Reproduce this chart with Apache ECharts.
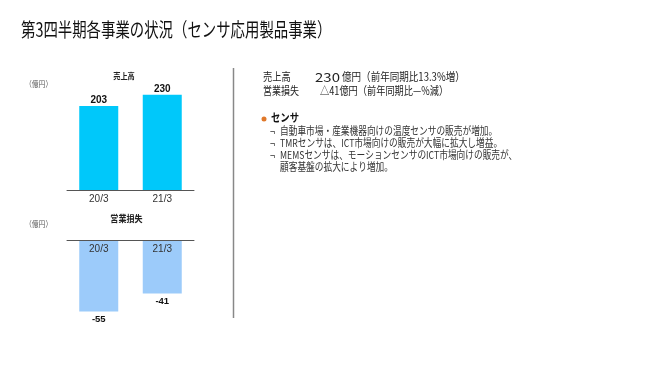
<!DOCTYPE html>
<html>
<head>
<meta charset="utf-8">
<script src="https://cdn.jsdelivr.net/npm/echarts@6/dist/echarts.min.js"></script>
<style>html,body{margin:0;padding:0;background:#fff;}#c{width:660px;height:371px;}</style>
</head>
<body>
<div id="c"></div>
<script>
const categories = ['20/3', '21/3'];
const salesValues = [203, 230];
const lossValues = [-55, -41];

const titleText = '第3四半期各事業の状況（センサ応用製品事業）';
const salesTitle = '売上高';
const lossTitle = '営業損失';
const unitText = '（億円）';
const summaryLines = [
  ['売上高', '230', '億円（前年同期比13.3%増）'],
  ['営業損失', '△41億円（前年同期比—%減）']
];
const bulletTitle = 'センサ';
const bulletItems = [
  '自動車市場・産業機器向けの温度センサの販売が増加。',
  'TMRセンサは、ICT市場向けの販売が大幅に拡大し増益。',
  'MEMSセンサは、モーションセンサのICT市場向けの販売が、'
];
const bulletContinuation = '顧客基盤の拡大により増加。';

const JP = '"Noto Sans CJK JP", "Noto Sans", sans-serif';
const LAT = '"Liberation Sans", Arial, sans-serif';

function txt(x, y, text, opt) {
  opt = opt || {};
  return {
    type: 'text', x: x, y: y, scaleX: opt.sx || 1, scaleY: opt.sy || 1,
    style: {
      text: text,
      font: (opt.weight || 'normal') + ' ' + (opt.size || 11) + 'px ' + (opt.family || JP),
      fill: opt.color || '#222',
      textAlign: opt.align || 'left',
      textVerticalAlign: 'middle'
    }
  };
}

const graphics = [];
graphics.push(txt(21, 30, titleText, {size: 18, sx: 0.8, sy: 1.08, color: '#111'}));
graphics.push(txt(124, 76, salesTitle, {size: 8.5, sx: 0.85, weight: 'bold', align: 'center', color: '#222'}));
graphics.push(txt(126.5, 218, lossTitle, {size: 9.5, sx: 0.85, weight: 'bold', align: 'center', color: '#222'}));
graphics.push(txt(25, 84, unitText, {size: 8, sx: 0.85, color: '#555'}));
graphics.push(txt(25, 224, unitText, {size: 8, sx: 0.85, color: '#555'}));
graphics.push({type: 'line', shape: {x1: 233.5, y1: 68, x2: 233.5, y2: 318}, style: {stroke: '#888', lineWidth: 1.5}});

graphics.push(txt(263, 77, summaryLines[0][0], {size: 11.5, sx: 0.8}));
graphics.push(txt(315, 77, summaryLines[0][1], {size: 12, sx: 1.25}));
graphics.push(txt(342, 77, summaryLines[0][2], {size: 11.5, sx: 0.83}));
graphics.push(txt(263, 91, summaryLines[1][0], {size: 11.5, sx: 0.78}));
graphics.push(txt(320, 91, summaryLines[1][1], {size: 11.5, sx: 0.8}));

graphics.push({type: 'circle', shape: {cx: 264, cy: 119, r: 2.5}, style: {fill: '#E0782A'}});
graphics.push(txt(271, 118, bulletTitle, {size: 11, sx: 0.85, weight: 'bold', color: '#111'}));
const ys = [131, 143, 155];
bulletItems.forEach(function (t, i) {
  graphics.push(txt(270, ys[i], '¬', {size: 10, sx: 0.9, color: '#333'}));
  graphics.push(txt(280, ys[i], t, {size: 11, sx: 0.79, color: '#333'}));
});
graphics.push(txt(280, 167, bulletContinuation, {size: 11, sx: 0.79, color: '#333'}));

const chart = echarts.init(document.getElementById('c'), null, {renderer: 'canvas'});
chart.setOption({
  backgroundColor: '#fff',
  animation: false,
  grid: [
    {left: 67, width: 127, top: 86.5, height: 103.5},
    {left: 67, width: 127, top: 240.5, height: 77.5}
  ],
  xAxis: [
    {
      gridIndex: 0, type: 'category', data: categories, position: 'bottom',
      axisLine: {lineStyle: {color: '#555', width: 1}},
      axisTick: {length: 3, lineStyle: {color: '#555'}},
      axisLabel: {color: '#333', fontSize: 10, fontFamily: LAT, margin: 4}
    },
    {
      gridIndex: 1, type: 'category', data: categories, position: 'top', z: 5,
      axisLine: {lineStyle: {color: '#555', width: 1}},
      axisTick: {length: 4, lineStyle: {color: '#555'}},
      axisLabel: {inside: true, color: '#333', fontSize: 10, fontFamily: LAT, margin: 4}
    }
  ],
  yAxis: [
    {gridIndex: 0, type: 'value', min: 0, max: 250, show: false, splitLine: {show: false}},
    {gridIndex: 1, type: 'value', min: -60, max: 0, show: false, splitLine: {show: false}}
  ],
  series: [
    {
      type: 'bar', xAxisIndex: 0, yAxisIndex: 0, data: salesValues, barWidth: 39,
      itemStyle: {color: '#00C8FA'},
      label: {show: true, position: 'top', distance: 1, color: '#111', fontWeight: 'bold', fontSize: 10, fontFamily: LAT}
    },
    {
      type: 'bar', xAxisIndex: 1, yAxisIndex: 1, data: lossValues, barWidth: 39,
      itemStyle: {color: '#9CCBFA'},
      label: {show: true, position: 'bottom', distance: 3, color: '#111', fontWeight: 'bold', fontSize: 9.5, fontFamily: LAT}
    }
  ],
  graphic: graphics
});
</script>
</body>
</html>
